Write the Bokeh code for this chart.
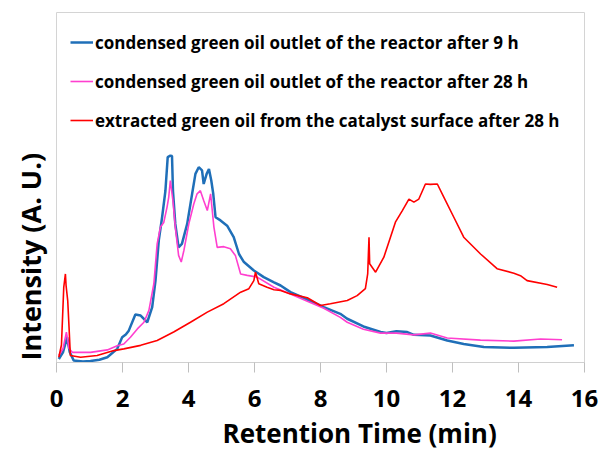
from bokeh.plotting import figure
from bokeh.models import Range1d, FixedTicker, Legend, LegendItem, Title
from bokeh.embed import file_html
from bokeh.resources import INLINE

# Retention time (min) and intensity (arbitrary units)
t_9h = [0.07, 0.2, 0.32, 0.4, 0.52, 0.8, 1.03, 1.3, 1.54, 1.84, 1.99, 2.1, 2.19, 2.39, 2.55, 2.75, 2.9,
        3.0, 3.1, 3.2, 3.3, 3.37, 3.45, 3.5, 3.53, 3.6, 3.7, 3.8, 3.96, 4.11, 4.21, 4.31, 4.41, 4.46,
        4.55, 4.62, 4.69, 4.75, 4.82, 4.97, 5.17, 5.37, 5.53, 5.68, 5.98, 6.28, 6.59, 6.79, 7.09, 7.6,
        8.1, 8.6, 8.81, 9.3, 9.82, 10.0, 10.3, 10.63, 10.83, 11.33, 11.84, 12.34, 12.95, 13.86, 14.87, 15.68]
i_9h = [1.0, 3, 7.2, 3, 0.6, 0.3, 0.4, 0.8, 1.5, 3.9, 7.2, 8, 9.1, 13.7, 13.4, 11.5, 15.8,
        23.4, 34.9, 41.5, 49, 58.7, 59.1, 59, 49, 39.6, 32.9, 33.9, 39.6, 48.2, 53.9, 55.8, 54.9, 51,
        53.9, 55.3, 52, 48.2, 41.5, 40.6, 39.1, 35.8, 31, 28.7, 26.3, 24.4, 22.9, 22, 20.1, 18.0,
        15.8, 13.9, 12.5, 10.3, 8.7, 8.4, 8.9, 8.7, 7.9, 7.7, 6.3, 5.3, 4.4, 4.2, 4.4, 4.9]

t_28h = [0.07, 0.2, 0.3, 0.38, 0.48, 1.03, 1.54, 1.84, 2.04, 2.24, 2.45, 2.65, 2.8, 2.95, 3.05, 3.15,
         3.25, 3.35, 3.4, 3.45, 3.53, 3.6, 3.7, 3.78, 3.86, 4.01, 4.16, 4.26, 4.36, 4.46, 4.57, 4.67,
         4.77, 4.87, 5.07, 5.27, 5.42, 5.58, 5.78, 6.08, 6.59, 7.09, 7.6, 8.1, 8.6, 8.81, 9.3, 9.82,
         10.3, 10.83, 11.33, 11.84, 12.85, 13.86, 14.67, 15.32]
i_28h = [2, 4, 8.7, 4, 2.9, 2.9, 3.6, 4.8, 5.3, 7.2, 9.6, 11.5, 14.9, 22.5, 33.9, 38.7,
         40, 44.4, 47.2, 52, 46, 38.7, 30.6, 28.7, 32, 39.6, 45.3, 48.2, 49.1, 46.3, 43.4, 48.2,
         38.7, 32.9, 33.1, 32.5, 30.6, 25.3, 24.9, 24.4, 21.5, 19.6, 17.5, 15.5, 12.9, 11.5, 9.5, 8.4,
         8.4, 7.9, 8.4, 7.0, 6.4, 6.1, 6.7, 6.5]

t_ext = [0.07, 0.15, 0.22, 0.27, 0.29, 0.34, 0.38, 0.42, 0.73, 1.23, 1.74, 2.04, 2.55, 3.05, 3.55,
         4.06, 4.57, 5.07, 5.58, 5.83, 5.98, 6.03, 6.13, 6.38, 6.59, 6.79, 7.09, 7.6, 8.0, 8.3, 8.81,
         9.11, 9.36, 9.43, 9.47, 9.49, 9.67, 9.92, 10.12, 10.27, 10.48, 10.68, 10.83, 10.98, 11.18,
         11.33, 11.54, 11.74, 12.04, 12.34, 12.85, 13.35, 13.86, 14.06, 14.26, 14.87, 15.17]
i_ext = [1.5, 5, 21.5, 25.3, 22, 17.7, 10.1, 2, 1.5, 2, 3.4, 3.9, 4.9, 6.3, 8.7,
         11.5, 14.4, 16.8, 20.1, 21.1, 23.4, 25.8, 22.5, 21.5, 20.8, 20.6, 19.6, 18.5, 16.3, 16.8, 17.7,
         19.1, 21.1, 25.3, 35.8, 28.2, 25.8, 30.1, 35.8, 40.1, 43.4, 46.7, 45.8, 46.7, 51,
         50.9, 51, 47.2, 41.5, 35.8, 31, 26.8, 25.5, 24.8, 23.4, 22.3, 21.5]

labels = ["condensed green oil outlet of the reactor after 9 h",
          "condensed green oil outlet of the reactor after 28 h",
          "extracted green oil from the catalyst surface after 28 h"]
x_ticks = [0, 2, 4, 6, 8, 10, 12, 14, 16]
x_title = "Retention Time (min)"
y_title = "Intensity (A. U.)"

FONT = "Open Sans"

p = figure(width=600, height=455, output_backend="svg", toolbar_location=None,
           x_range=Range1d(0, 16), y_range=Range1d(0, 100),
           min_border_left=56, min_border_right=16, min_border_top=12, min_border_bottom=93)
p.background_fill_color = "white"
p.border_fill_color = "white"
p.outline_line_color = "#d4d4d4"
p.outline_line_width = 1
p.xgrid.visible = False
p.ygrid.visible = False

r1 = p.line(t_9h, i_9h, line_color="#1f6fb8", line_width=2.5)
r2 = p.line(t_28h, i_28h, line_color="#ff3fcf", line_width=1.6)
r3 = p.line(t_ext, i_ext, line_color="#ff0000", line_width=1.6)

legend = Legend(items=[LegendItem(label=labels[0], renderers=[r1]),
                       LegendItem(label=labels[1], renderers=[r2]),
                       LegendItem(label=labels[2], renderers=[r3])],
                location=(14, 230), padding=0, spacing=15, glyph_width=23, glyph_height=24,
                label_height=24, label_standoff=2,
                border_line_alpha=0, background_fill_alpha=0,
                label_text_font=FONT, label_text_font_style="bold", label_text_font_size="17px",
                label_text_color="black")
p.add_layout(legend)

xa = p.xaxis[0]
xa.ticker = FixedTicker(ticks=x_ticks)
xa.minor_tick_line_color = None
xa.major_tick_in = 0
xa.major_tick_out = 10
xa.major_tick_line_color = "#bfbfbf"
xa.axis_line_color = "#d0d0d0"
xa.major_label_text_font = FONT
xa.major_label_text_font_style = "bold"
xa.major_label_text_font_size = "24px"
xa.major_label_text_color = "black"
xa.major_label_standoff = 17

# x title sits right of centre in the original, so it is a title aligned from the left
p.add_layout(Title(text=x_title, align="left", offset=166, standoff=6, text_font=FONT,
                   text_font_style="bold", text_font_size="26px", text_color="black"), "below")

p.yaxis.visible = False
p.add_layout(Title(text=y_title, align="left", offset=2, standoff=15, text_font=FONT,
                   text_font_style="bold", text_font_size="27px", text_color="black"), "left")

open("out.html", "w").write(file_html(p, INLINE))
